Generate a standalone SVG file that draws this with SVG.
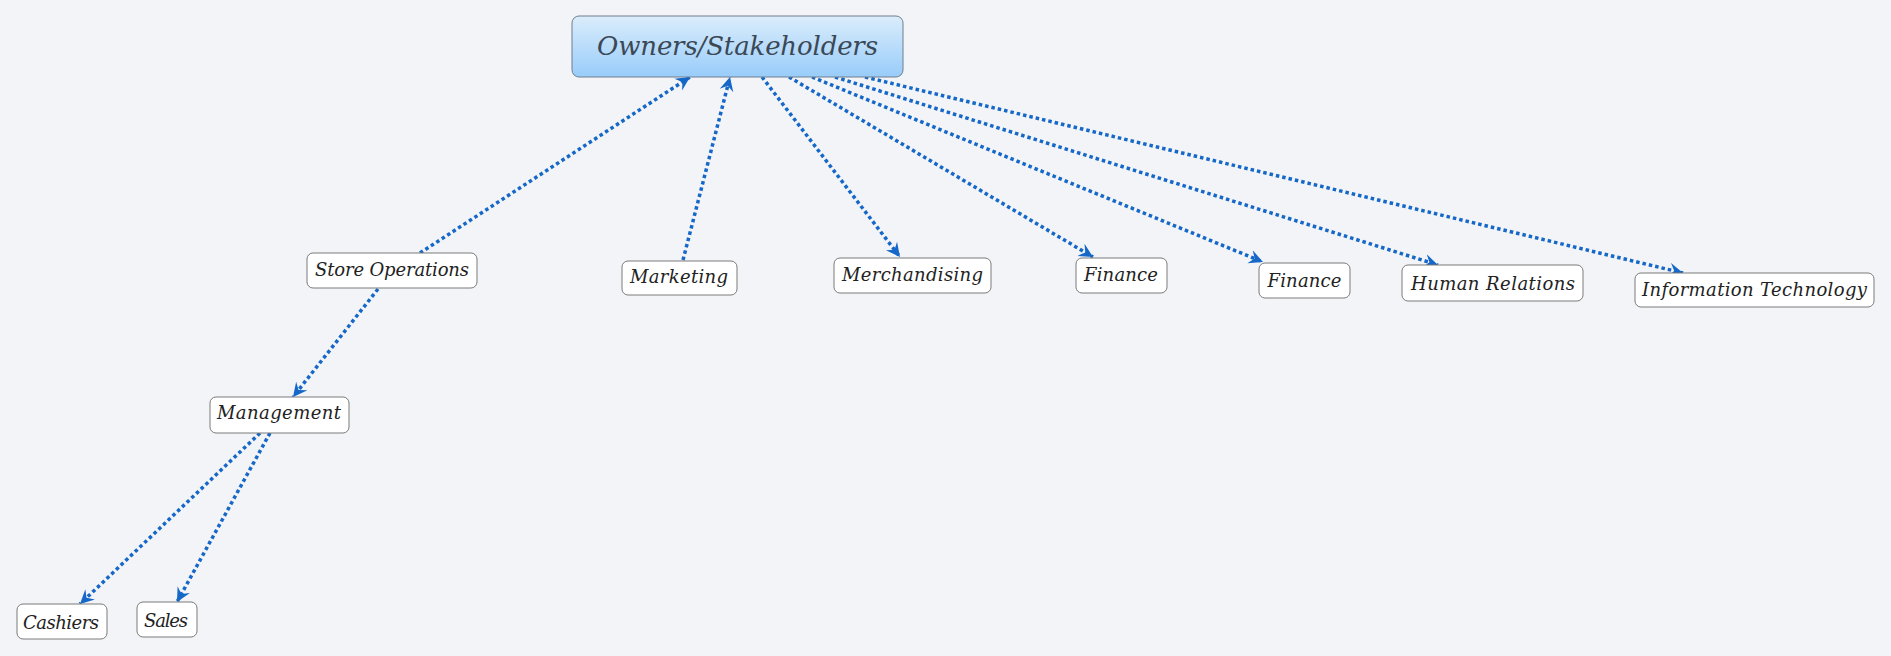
<svg xmlns="http://www.w3.org/2000/svg" width="1891" height="656" viewBox="0 0 1891 656">
<defs>
<linearGradient id="rootGrad" x1="0" y1="0" x2="0" y2="1">
<stop offset="0" stop-color="#dbedfb"/>
<stop offset="1" stop-color="#98ccfa"/>
</linearGradient>
<marker id="arr" markerUnits="userSpaceOnUse" markerWidth="16" markerHeight="16" refX="14" refY="7" orient="auto" viewBox="0 0 16 14">
<path d="M0,0 L14,7 L0,14 L5,7 z" fill="#1567c8"/>
</marker>
<style>
.bg{fill:#f2f4f7}
.node rect{fill:#ffffff;stroke:#7a7a7a;stroke-width:1}
.node text{font-family:"DejaVu Serif","Liberation Serif",serif;font-style:italic;font-size:18px;fill:#222222;text-anchor:middle}
#root rect{fill:url(#rootGrad);stroke:#6f7f8f;stroke-width:1}
#root text{font-family:"DejaVu Serif","Liberation Serif",serif;font-style:italic;font-size:26px;fill:#3b4856;text-anchor:middle}
.conn line{stroke:#1567c8;stroke-width:3.5;stroke-dasharray:3.5 3;fill:none;marker-end:url(#arr)}
</style>
</defs>
<rect class="bg" x="0" y="0" width="1891" height="656"/>
<g id="connectors" class="conn">
<line x1="420" y1="253" x2="690" y2="77"/>
<line x1="683" y1="260" x2="730" y2="77"/>
<line x1="762" y1="77" x2="900" y2="257"/>
<line x1="789" y1="77" x2="1093" y2="257"/>
<line x1="812" y1="77" x2="1263" y2="262"/>
<line x1="835" y1="77" x2="1438" y2="265"/>
<line x1="865" y1="77" x2="1683" y2="273"/>
<line x1="378" y1="289" x2="293" y2="397"/>
<line x1="260" y1="433" x2="80" y2="604"/>
<line x1="270" y1="433" x2="177" y2="602"/>
</g>
<g id="root" class="node">
<rect x="572" y="16" width="331" height="61" rx="7"/>
<text x="737.5" y="55" textLength="281">Owners/Stakeholders</text>
</g>
<g id="store-operations" class="node">
<rect x="307" y="253" width="170" height="35" rx="6"/>
<text x="392" y="276" textLength="154">Store Operations</text>
</g>
<g id="marketing" class="node">
<rect x="622" y="261" width="115" height="34" rx="6"/>
<text x="679" y="283" textLength="98">Marketing</text>
</g>
<g id="merchandising" class="node">
<rect x="834" y="258" width="157" height="35" rx="6"/>
<text x="912.5" y="281" textLength="141">Merchandising</text>
</g>
<g id="finance-1" class="node">
<rect x="1076" y="258" width="91" height="35" rx="6"/>
<text x="1121" y="281" textLength="74">Finance</text>
</g>
<g id="finance-2" class="node">
<rect x="1259" y="263" width="91" height="35" rx="6"/>
<text x="1304.5" y="287" textLength="74">Finance</text>
</g>
<g id="human-relations" class="node">
<rect x="1402" y="265" width="181" height="36" rx="6"/>
<text x="1493" y="290" textLength="164">Human Relations</text>
</g>
<g id="information-technology" class="node">
<rect x="1635" y="273" width="239" height="34" rx="6"/>
<text x="1754.5" y="296" textLength="225">Information Technology</text>
</g>
<g id="management" class="node">
<rect x="210" y="397" width="139" height="36" rx="6"/>
<text x="279" y="419" textLength="124">Management</text>
</g>
<g id="cashiers" class="node">
<rect x="17" y="604" width="90" height="35" rx="6"/>
<text x="61" y="629" textLength="76">Cashiers</text>
</g>
<g id="sales" class="node">
<rect x="137" y="602" width="60" height="35" rx="6"/>
<text x="166" y="627" textLength="44">Sales</text>
</g>
</svg>
